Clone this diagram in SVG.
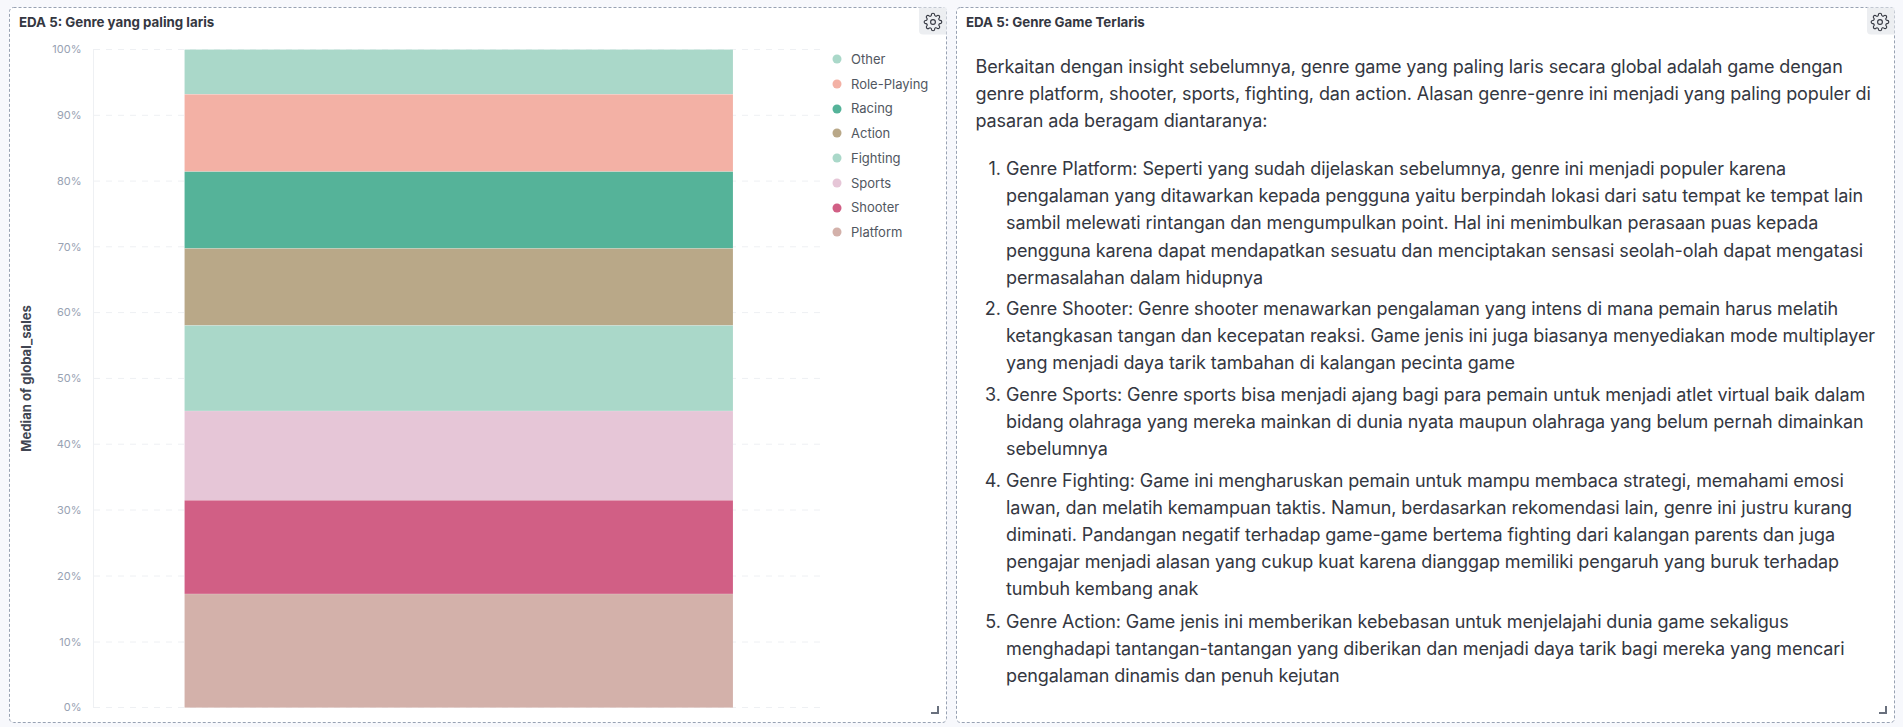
<svg xmlns="http://www.w3.org/2000/svg" width="1903" height="727" viewBox="0 0 1903 727">
<style>
text{font-family:Inter,"Noto Sans",sans-serif}
.panel{fill:#fff;stroke:#98a2b3;stroke-width:1;stroke-dasharray:3 2}
.title{font-size:13.3px;font-weight:700;fill:#343741}
.tick{font-size:11px;fill:#98a2b3;text-anchor:end}
.grid{stroke:#eef0f3;stroke-width:1;stroke-dasharray:6 6}
.leg{font-size:13px;fill:#515761}
.body{font-size:18px;letter-spacing:-.1px;fill:#343741}
.num{font-size:18px;fill:#343741;text-anchor:end}
.btn{fill:#eceef1}
.gear{fill:none;stroke:#343741;stroke-width:1.4;stroke-linejoin:round}
.handle{fill:none;stroke:#69707d;stroke-width:2}
</style>
<defs>
<g id="gear">
<circle cx="12" cy="12" r="3" class="gear"/>
<path class="gear" d="M19.4 15a1.65 1.65 0 0 0 .33 1.82l.06.06a2 2 0 0 1 0 2.83 2 2 0 0 1-2.83 0l-.06-.06a1.65 1.65 0 0 0-1.82-.33 1.65 1.65 0 0 0-1 1.51V21a2 2 0 0 1-2 2 2 2 0 0 1-2-2v-.09A1.65 1.65 0 0 0 9 19.4a1.65 1.65 0 0 0-1.82.33l-.06.06a2 2 0 0 1-2.83 0 2 2 0 0 1 0-2.83l.06-.06a1.65 1.65 0 0 0 .33-1.82 1.65 1.65 0 0 0-1.51-1H3a2 2 0 0 1-2-2 2 2 0 0 1 2-2h.09A1.65 1.65 0 0 0 4.6 9a1.65 1.65 0 0 0-.33-1.82l-.06-.06a2 2 0 0 1 0-2.83 2 2 0 0 1 2.83 0l.06.06a1.65 1.65 0 0 0 1.82.33H9a1.65 1.65 0 0 0 1-1.51V3a2 2 0 0 1 2-2 2 2 0 0 1 2 2v.09a1.65 1.65 0 0 0 1 1.51 1.65 1.65 0 0 0 1.82-.33l.06-.06a2 2 0 0 1 2.83 0 2 2 0 0 1 0 2.83l-.06.06a1.65 1.65 0 0 0-.33 1.82V9a1.65 1.65 0 0 0 1.51 1H21a2 2 0 0 1 2 2 2 2 0 0 1-2 2h-.09a1.65 1.65 0 0 0-1.51 1z"/>
</g>
</defs>
<rect width="1903" height="727" fill="#f7f8fc"/>
<g id="panel-chart">
<rect class="panel" x="9.5" y="7.5" width="937" height="715" rx="4"/>
<text class="title" x="19" y="27">EDA 5: Genre yang paling laris</text>
<path class="btn" d="M919 7.5H946.5V34.5H923a4 4 0 0 1-4-4z"/>
<use href="#gear" transform="translate(923.4,12.4) scale(.8)"/>
<path class="handle" d="M931 713H938V706"/>
<g id="grid">
<line class="grid" x1="94" x2="824" y1="49.5" y2="49.5"/>
<line class="grid" x1="94" x2="824" y1="115.3" y2="115.3"/>
<line class="grid" x1="94" x2="824" y1="181.1" y2="181.1"/>
<line class="grid" x1="94" x2="824" y1="246.8" y2="246.8"/>
<line class="grid" x1="94" x2="824" y1="312.6" y2="312.6"/>
<line class="grid" x1="94" x2="824" y1="378.4" y2="378.4"/>
<line class="grid" x1="94" x2="824" y1="444.2" y2="444.2"/>
<line class="grid" x1="94" x2="824" y1="510" y2="510"/>
<line class="grid" x1="94" x2="824" y1="576" y2="576"/>
<line class="grid" x1="94" x2="824" y1="642" y2="642"/>
<line class="grid" x1="94" x2="824" y1="707.5" y2="707.5"/>
<line x1="93.5" x2="93.5" y1="49" y2="708" stroke="#eef0f3"/>
</g>
<g id="bars" stroke="#fff" stroke-opacity=".3" stroke-width=".5">
<rect x="184.5" y="49.5" width="548.5" height="44.8" fill="#aad8c9"/>
<rect x="184.5" y="94.3" width="548.5" height="77.4" fill="#f3b1a5"/>
<rect x="184.5" y="171.7" width="548.5" height="76.8" fill="#55b399"/>
<rect x="184.5" y="248.500" width="548.5" height="77" fill="#b9a888"/>
<rect x="184.5" y="325.5" width="548.5" height="85.500" fill="#aad8c9"/>
<rect x="184.5" y="411" width="548.5" height="89.300" fill="#e6c6d7"/>
<rect x="184.5" y="500.3" width="548.5" height="93.7" fill="#d15f85"/>
<rect x="184.5" y="594" width="548.5" height="113.7" fill="#d3b1aa"/>
</g>
<g id="ticks">
<text class="tick" x="81.5" y="53">100%</text>
<text class="tick" x="81.5" y="119">90%</text>
<text class="tick" x="81.5" y="185">80%</text>
<text class="tick" x="81.5" y="250.500">70%</text>
<text class="tick" x="81.5" y="316">60%</text>
<text class="tick" x="81.5" y="382">50%</text>
<text class="tick" x="81.5" y="448">40%</text>
<text class="tick" x="81.5" y="514">30%</text>
<text class="tick" x="81.5" y="580">20%</text>
<text class="tick" x="81.5" y="646">10%</text>
<text class="tick" x="81.5" y="711">0%</text>
</g>
<text transform="translate(30.5,378.4) rotate(-90)" text-anchor="middle" font-size="13.1" font-weight="700" fill="#414652">Median of global_sales</text>
<g id="legend">
<circle cx="837" cy="59" r="4.5" fill="#aad8c9"/><text class="leg" x="851" y="63.500">Other</text>
<circle cx="837" cy="84" r="4.5" fill="#f3b1a5"/><text class="leg" x="851" y="88.500">Role-Playing</text>
<circle cx="837" cy="109" r="4.5" fill="#55b399"/><text class="leg" x="851" y="113">Racing</text>
<circle cx="837" cy="133" r="4.5" fill="#b9a888"/><text class="leg" x="851" y="137.500">Action</text>
<circle cx="837" cy="158" r="4.5" fill="#aad8c9"/><text class="leg" x="851" y="162.500">Fighting</text>
<circle cx="837" cy="183" r="4.5" fill="#e6c6d7"/><text class="leg" x="851" y="187.500">Sports</text>
<circle cx="837" cy="208" r="4.5" fill="#d15f85"/><text class="leg" x="851" y="212">Shooter</text>
<circle cx="837" cy="232" r="4.5" fill="#d3b1aa"/><text class="leg" x="851" y="236.500">Platform</text>
</g>
</g>
<g id="panel-text">
<rect class="panel" x="956.5" y="7.500" width="938" height="715" rx="4"/>
<text class="title" x="966" y="27">EDA 5: Genre Game Terlaris</text>
<path class="btn" d="M1867 7.5H1894.5V34.5H1871a4 4 0 0 1-4-4z"/>
<use href="#gear" transform="translate(1870.4,12.4) scale(.8)"/>
<path class="handle" d="M1879 713H1886V706"/>
<text class="body" x="975.500" y="73">Berkaitan dengan insight sebelumnya, genre game yang paling laris secara global adalah game dengan</text>
<text class="body" x="975.500" y="100">genre platform, shooter, sports, fighting, dan action. Alasan genre-genre ini menjadi yang paling populer di</text>
<text class="body" x="975.500" y="127">pasaran ada beragam diantaranya:</text>
<text class="num" x="1001" y="175">1.</text>
<text class="body" x="1006" y="175">Genre Platform: Seperti yang sudah dijelaskan sebelumnya, genre ini menjadi populer karena</text>
<text class="body" x="1006" y="202">pengalaman yang ditawarkan kepada pengguna yaitu berpindah lokasi dari satu tempat ke tempat lain</text>
<text class="body" x="1006" y="229">sambil melewati rintangan dan mengumpulkan point. Hal ini menimbulkan perasaan puas kepada</text>
<text class="body" x="1006" y="257">pengguna karena dapat mendapatkan sesuatu dan menciptakan sensasi seolah-olah dapat mengatasi</text>
<text class="body" x="1006" y="284">permasalahan dalam hidupnya</text>
<text class="num" x="1001" y="315">2.</text>
<text class="body" x="1006" y="315">Genre Shooter: Genre shooter menawarkan pengalaman yang intens di mana pemain harus melatih</text>
<text class="body" x="1006" y="342">ketangkasan tangan dan kecepatan reaksi. Game jenis ini juga biasanya menyediakan mode multiplayer</text>
<text class="body" x="1006" y="369">yang menjadi daya tarik tambahan di kalangan pecinta game</text>
<text class="num" x="1001" y="401">3.</text>
<text class="body" x="1006" y="401">Genre Sports: Genre sports bisa menjadi ajang bagi para pemain untuk menjadi atlet virtual baik dalam</text>
<text class="body" x="1006" y="428">bidang olahraga yang mereka mainkan di dunia nyata maupun olahraga yang belum pernah dimainkan</text>
<text class="body" x="1006" y="455">sebelumnya</text>
<text class="num" x="1001" y="487">4.</text>
<text class="body" x="1006" y="487">Genre Fighting: Game ini mengharuskan pemain untuk mampu membaca strategi, memahami emosi</text>
<text class="body" x="1006" y="514">lawan, dan melatih kemampuan taktis. Namun, berdasarkan rekomendasi lain, genre ini justru kurang</text>
<text class="body" x="1006" y="541">diminati. Pandangan negatif terhadap game-game bertema fighting dari kalangan parents dan juga</text>
<text class="body" x="1006" y="568">pengajar menjadi alasan yang cukup kuat karena dianggap memiliki pengaruh yang buruk terhadap</text>
<text class="body" x="1006" y="595">tumbuh kembang anak</text>
<text class="num" x="1001" y="628">5.</text>
<text class="body" x="1006" y="628">Genre Action: Game jenis ini memberikan kebebasan untuk menjelajahi dunia game sekaligus</text>
<text class="body" x="1006" y="655">menghadapi tantangan-tantangan yang diberikan dan menjadi daya tarik bagi mereka yang mencari</text>
<text class="body" x="1006" y="682">pengalaman dinamis dan penuh kejutan</text>
</g>
</svg>
